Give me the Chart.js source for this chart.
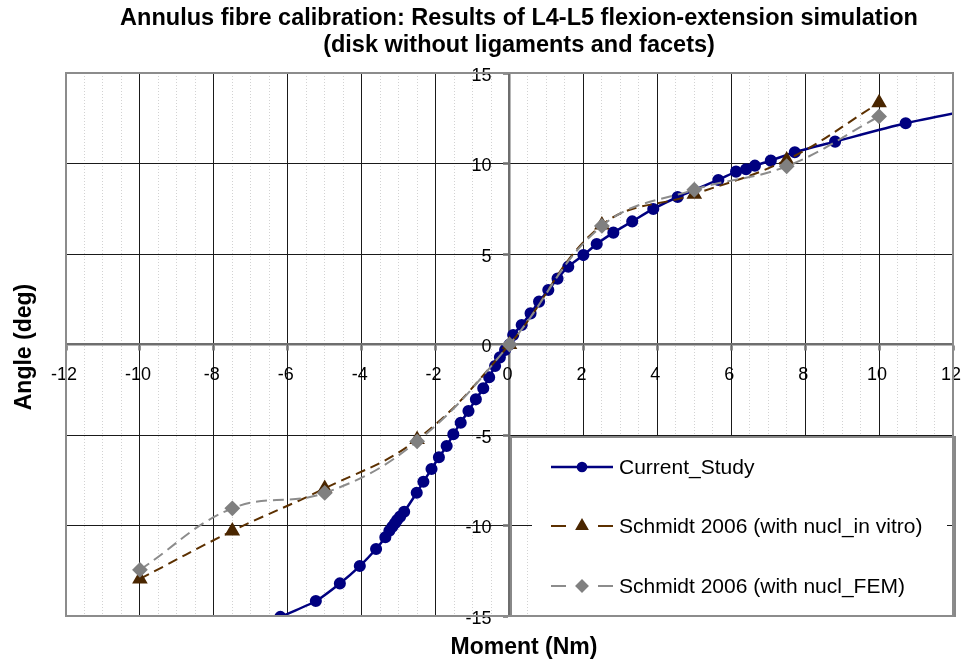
<!DOCTYPE html>
<html>
<head>
<meta charset="utf-8">
<title>Annulus fibre calibration</title>
<script src="https://cdn.jsdelivr.net/npm/chart.js@4/dist/chart.umd.min.js"></script>
<style>
  html, body { margin: 0; padding: 0; background: #fff; }
  #wrap { width: 963px; height: 663px; }
</style>
</head>
<body>
<div id="wrap"><canvas id="calibChart" width="963" height="663"></canvas></div>
<script>
// Current study: moment (Nm) vs angle (deg)
const currentX = [-6.2, -5.24, -4.59, -4.05, -3.61, -3.36, -3.25, -3.17, -3.10, -3.04, -2.96, -2.85,
  -2.51, -2.33, -2.11, -1.91, -1.70, -1.52, -1.32, -1.11, -0.91, -0.71, -0.55, -0.39, -0.26, -0.12,
  0, 0.10, 0.33, 0.57, 0.80, 1.05, 1.30, 1.59, 2.00, 2.36, 2.81, 3.32, 3.89, 4.55, 5.65, 6.13,
  6.40, 6.64, 7.07, 7.72, 8.81, 10.72, 12.6];
const currentY = [-15.05, -14.17, -13.2, -12.24, -11.3, -10.65, -10.29, -10.07, -9.88, -9.70, -9.51, -9.24,
  -8.19, -7.58, -6.88, -6.23, -5.61, -4.96, -4.32, -3.67, -3.03, -2.42, -1.81, -1.19, -0.71, -0.30,
  0, 0.52, 1.08, 1.72, 2.37, 3.01, 3.64, 4.30, 4.94, 5.55, 6.18, 6.80, 7.49, 8.15, 9.09, 9.55,
  9.68, 9.88, 10.16, 10.62, 11.21, 12.22, 13.0];

// Schmidt 2006 reference curves
const schmidtX = [-10, -7.5, -5, -2.5, 0, 2.5, 5, 7.5, 10];
const vitroY = [-12.95, -10.3, -7.95, -5.25, 0, 6.6, 8.3, 10.2, 13.35];
const femY = [-12.45, -9.05, -8.2, -5.35, 0, 6.55, 8.55, 9.85, 12.6];

const xTicks = [-12, -10, -8, -6, -4, -2, 0, 2, 4, 6, 8, 10, 12];
const yTicks = [-15, -10, -5, 0, 5, 10, 15];

const seriesNames = ['Current_Study', 'Schmidt 2006 (with nucl_in vitro)', 'Schmidt 2006 (with nucl_FEM)'];
const titleLines = ['Annulus fibre calibration: Results of L4-L5 flexion-extension simulation',
  '(disk without ligaments and facets)'];

const FONT = '"Liberation Sans", Arial, sans-serif';

function pairs(xs, ys) {
  return xs.map((x, i) => ({ x: x, y: ys[i] }));
}

// titles, tick labels at the crossing axes, plot frame and the boxed legend
const decorPlugin = {
  id: 'decor',
  afterDraw(chart) {
    const ctx = chart.ctx;
    const area = chart.chartArea;
    const xs = chart.scales.x, ys = chart.scales.y;
    ctx.save();

    ctx.fillStyle = '#000';
    ctx.textAlign = 'center';
    ctx.textBaseline = 'middle';
    ctx.font = 'bold 23.5px ' + FONT;
    ctx.fillText(titleLines[0], 519, 19);
    ctx.fillText(titleLines[1], 519, 46);
    ctx.font = 'bold 23px ' + FONT;
    ctx.fillText('Moment (Nm)', 524, 648);
    ctx.save();
    ctx.translate(25, 347);
    ctx.rotate(-Math.PI / 2);
    ctx.fillText('Angle (deg)', 0, 0);
    ctx.restore();

    ctx.font = '18px ' + FONT;
    const x0 = xs.getPixelForValue(0);
    const y0 = ys.getPixelForValue(0);
    xTicks.forEach(v => {
      ctx.fillText(String(v), xs.getPixelForValue(v) - 2, y0 + 31);
    });
    ctx.textAlign = 'right';
    yTicks.forEach(v => {
      ctx.fillText(String(v), x0 - 18, ys.getPixelForValue(v) + 3);
    });

    // legend box
    const lx = 511, ly = 437, lw = 444, lh = area.bottom - 437;
    ctx.fillStyle = '#fff';
    ctx.fillRect(532, ly + 1, 947 - 532, lh - 2);
    ctx.strokeStyle = '#888';
    ctx.lineWidth = 2;
    ctx.strokeRect(lx, ly, lw, lh);

    const rows = [467, 526, 586];
    seriesNames.forEach((name, i) => {
      const ds = chart.data.datasets.find(d => d.label === name);
      const y = rows[i];
      ctx.strokeStyle = ds.borderColor;
      ctx.lineWidth = ds.borderWidth;
      ctx.setLineDash([]);
      ctx.beginPath();
      if (ds.borderDash && ds.borderDash.length) {
        ctx.moveTo(551, y); ctx.lineTo(566, y);
        ctx.moveTo(598, y); ctx.lineTo(613, y);
      } else {
        ctx.moveTo(551, y); ctx.lineTo(613, y);
      }
      ctx.stroke();
      ctx.fillStyle = ds.pointBackgroundColor;
      ctx.strokeStyle = ds.pointBorderColor;
      Chart.helpers.drawPoint(ctx, {
        pointStyle: ds.pointStyle,
        radius: ds.pointRadius * 0.85,
        rotation: 0,
        borderWidth: 1
      }, 582, y);
      ctx.fillStyle = '#000';
      ctx.font = '21px ' + FONT;
      ctx.textAlign = 'left';
      ctx.fillText(name, 619, y + 1);
    });

    // plot frame
    ctx.strokeStyle = '#8c8c8c';
    ctx.lineWidth = 2;
    ctx.strokeRect(area.left, area.top, area.right - area.left, area.bottom - area.top);
    ctx.restore();
  }
};

new Chart(document.getElementById('calibChart'), {
  type: 'line',
  data: {
    // drawn back to front: FEM, in vitro, then the current study on top
    datasets: [{
      label: seriesNames[2],
      data: pairs(schmidtX, femY),
      borderColor: '#8c8c8c',
      backgroundColor: '#808080',
      pointBackgroundColor: '#808080',
      pointBorderColor: '#808080',
      borderWidth: 2,
      borderDash: [11, 6],
      pointStyle: 'rectRot',
      pointRadius: 6.5,
      tension: 0.4
    }, {
      label: seriesNames[1],
      data: pairs(schmidtX, vitroY),
      borderColor: '#5c3000',
      backgroundColor: '#4a2600',
      pointBackgroundColor: '#4a2600',
      pointBorderColor: '#4a2600',
      borderWidth: 2,
      borderDash: [10, 6],
      pointStyle: 'triangle',
      pointRadius: 7,
      tension: 0.4
    }, {
      label: seriesNames[0],
      data: pairs(currentX, currentY),
      borderColor: '#000080',
      backgroundColor: '#000080',
      pointBackgroundColor: '#000080',
      pointBorderColor: '#000080',
      borderWidth: 2.5,
      pointStyle: 'circle',
      pointRadius: 4.8,
      tension: 0.25
    }]
  },
  options: {
    responsive: false,
    animation: false,
    layout: { padding: { top: 73, left: 66, right: 10, bottom: 47 } },
    plugins: {
      legend: { display: false },
      tooltip: { enabled: false },
      title: { display: false }
    },
    scales: {
      xMinor: {
        type: 'linear',
        position: { y: 0 },
        min: -12,
        max: 12,
        ticks: { display: false, stepSize: 0.5 },
        grid: {
          drawTicks: false,
          color: ctx => (ctx.tick && Math.abs(ctx.tick.value % 2) > 0.01) ? '#d2d2d2' : 'transparent',
          lineWidth: 1
        },
        border: { display: false, dash: [1, 2] }
      },
      x: {
        type: 'linear',
        position: { y: 0 },
        min: -12,
        max: 12,
        afterBuildTicks: axis => { axis.ticks = xTicks.map(v => ({ value: v })); },
        ticks: { display: false },
        grid: {
          color: '#1a1a1a',
          lineWidth: 1,
          tickLength: 5,
          tickColor: '#6e6e6e',
          tickWidth: 2.5
        },
        border: { color: '#6e6e6e', width: 2.5 }
      },
      y: {
        type: 'linear',
        position: { x: 0 },
        min: -15,
        max: 15,
        afterBuildTicks: axis => { axis.ticks = yTicks.map(v => ({ value: v })); },
        ticks: { display: false },
        grid: {
          color: '#1a1a1a',
          lineWidth: 1,
          tickLength: 5,
          tickColor: '#6e6e6e',
          tickWidth: 2.5
        },
        border: { color: '#6e6e6e', width: 2.5 }
      }
    }
  },
  plugins: [decorPlugin]
});
</script>
</body>
</html>
